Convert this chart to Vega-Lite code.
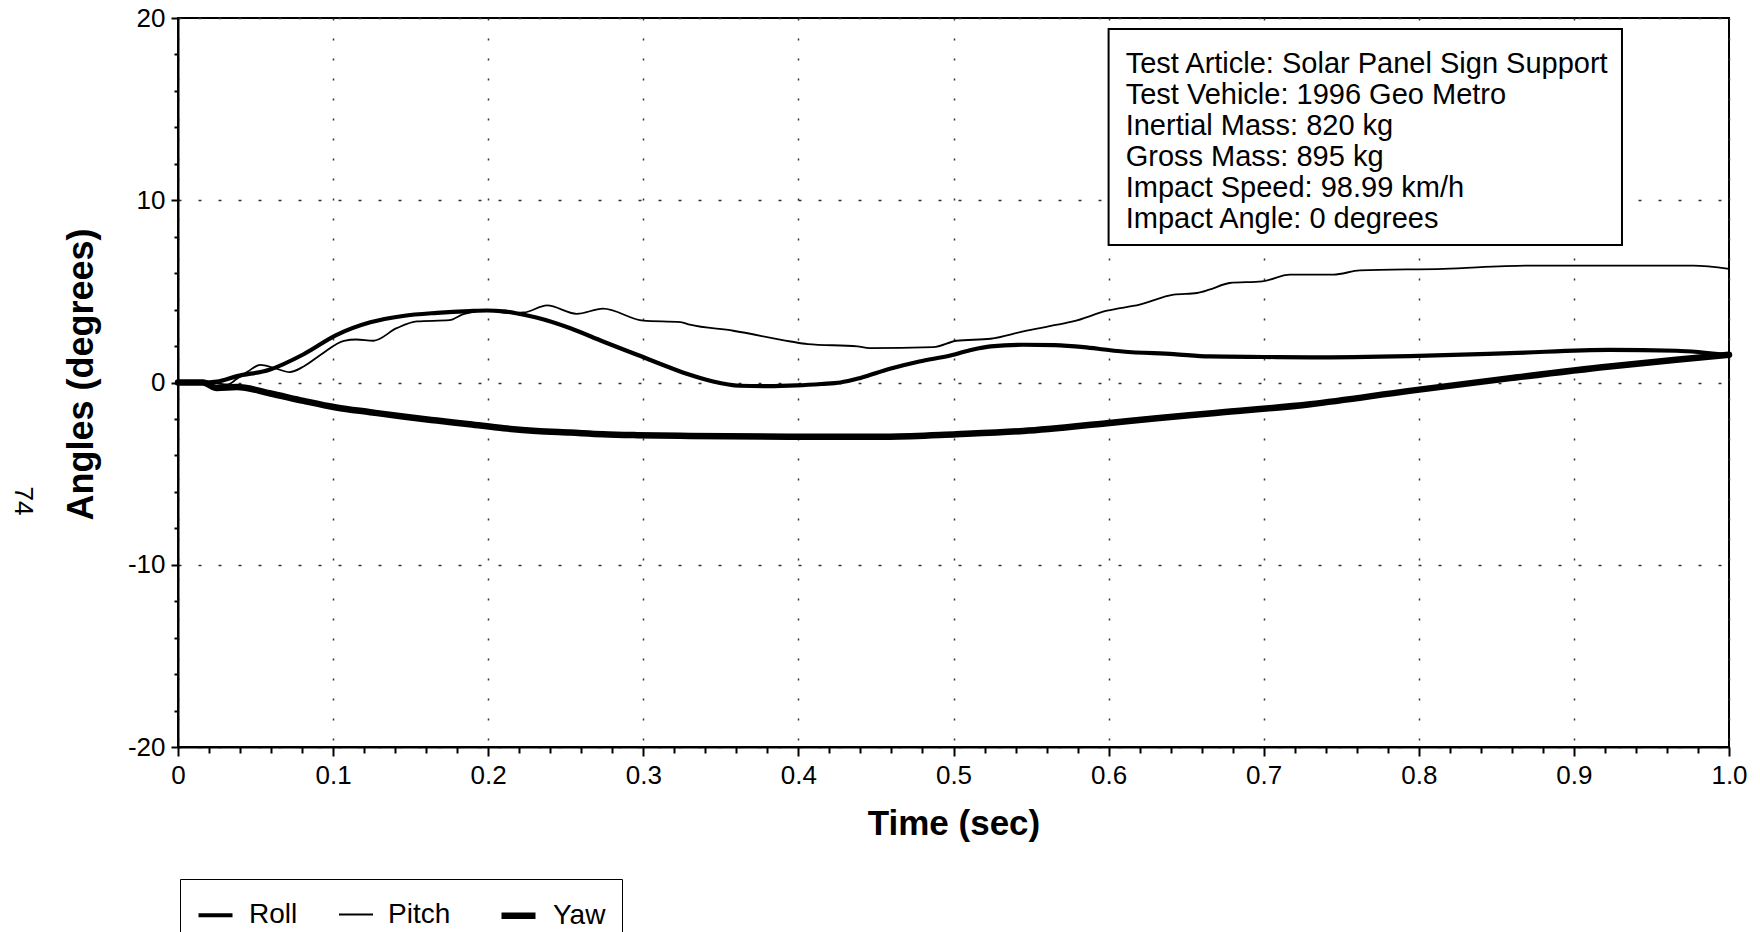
{
  "$schema": "https://vega.github.io/schema/vega-lite/v6.json",
  "width": 1551,
  "height": 729,
  "autosize": {"type": "none"},
  "padding": {"left": 178, "top": 18, "right": 31, "bottom": 185},
  "background": "white",
  "config": {
    "font": "Liberation Sans",
    "view": {"stroke": "black", "strokeWidth": 2},
    "axis": {"labelColor": "black", "titleColor": "black", "domainColor": "black", "tickColor": "black"}
  },
  "datasets": {
    "series": [
      {"t": 0, "value": 0, "s": "Roll"}, {"t": 0.016, "value": 0, "s": "Roll"}, {"t": 0.025, "value": 0.05, "s": "Roll"}, {"t": 0.038, "value": 0.35, "s": "Roll"}, {"t": 0.059, "value": 0.7, "s": "Roll"}, {"t": 0.081, "value": 1.55, "s": "Roll"}, {"t": 0.102, "value": 2.6, "s": "Roll"}, {"t": 0.124, "value": 3.3, "s": "Roll"}, {"t": 0.145, "value": 3.65, "s": "Roll"}, {"t": 0.167, "value": 3.82, "s": "Roll"}, {"t": 0.188, "value": 3.92, "s": "Roll"}, {"t": 0.199, "value": 3.95, "s": "Roll"}, {"t": 0.21, "value": 3.9, "s": "Roll"}, {"t": 0.218, "value": 3.8, "s": "Roll"}, {"t": 0.231, "value": 3.57, "s": "Roll"}, {"t": 0.253, "value": 2.98, "s": "Roll"}, {"t": 0.274, "value": 2.25, "s": "Roll"}, {"t": 0.296, "value": 1.52, "s": "Roll"}, {"t": 0.317, "value": 0.82, "s": "Roll"}, {"t": 0.33, "value": 0.42, "s": "Roll"}, {"t": 0.345, "value": 0.05, "s": "Roll"}, {"t": 0.362, "value": -0.18, "s": "Roll"}, {"t": 0.38, "value": -0.2, "s": "Roll"}, {"t": 0.399, "value": -0.16, "s": "Roll"}, {"t": 0.415, "value": -0.08, "s": "Roll"}, {"t": 0.427, "value": 0.0, "s": "Roll"}, {"t": 0.44, "value": 0.25, "s": "Roll"}, {"t": 0.459, "value": 0.75, "s": "Roll"}, {"t": 0.478, "value": 1.15, "s": "Roll"}, {"t": 0.498, "value": 1.48, "s": "Roll"}, {"t": 0.512, "value": 1.8, "s": "Roll"}, {"t": 0.524, "value": 1.98, "s": "Roll"}, {"t": 0.545, "value": 2.07, "s": "Roll"}, {"t": 0.565, "value": 2.05, "s": "Roll"}, {"t": 0.584, "value": 1.94, "s": "Roll"}, {"t": 0.6, "value": 1.78, "s": "Roll"}, {"t": 0.609, "value": 1.7, "s": "Roll"}, {"t": 0.642, "value": 1.56, "s": "Roll"}, {"t": 0.665, "value": 1.43, "s": "Roll"}, {"t": 0.7, "value": 1.4, "s": "Roll"}, {"t": 0.73, "value": 1.38, "s": "Roll"}, {"t": 0.794, "value": 1.45, "s": "Roll"}, {"t": 0.859, "value": 1.61, "s": "Roll"}, {"t": 0.923, "value": 1.79, "s": "Roll"}, {"t": 0.966, "value": 1.74, "s": "Roll"}, {"t": 1.0, "value": 1.5, "s": "Roll"},
      {"t": 0, "value": 0, "s": "Pitch"}, {"t": 0.016, "value": 0, "s": "Pitch"}, {"t": 0.025, "value": -0.05, "s": "Pitch"}, {"t": 0.032, "value": -0.1, "s": "Pitch"}, {"t": 0.038, "value": 0.2, "s": "Pitch"}, {"t": 0.045, "value": 0.6, "s": "Pitch"}, {"t": 0.053, "value": 0.97, "s": "Pitch"}, {"t": 0.062, "value": 0.8, "s": "Pitch"}, {"t": 0.072, "value": 0.57, "s": "Pitch"}, {"t": 0.081, "value": 0.88, "s": "Pitch"}, {"t": 0.092, "value": 1.52, "s": "Pitch"}, {"t": 0.107, "value": 2.29, "s": "Pitch"}, {"t": 0.115, "value": 2.36, "s": "Pitch"}, {"t": 0.126, "value": 2.29, "s": "Pitch"}, {"t": 0.141, "value": 2.98, "s": "Pitch"}, {"t": 0.154, "value": 3.35, "s": "Pitch"}, {"t": 0.175, "value": 3.42, "s": "Pitch"}, {"t": 0.184, "value": 3.75, "s": "Pitch"}, {"t": 0.199, "value": 3.94, "s": "Pitch"}, {"t": 0.214, "value": 3.81, "s": "Pitch"}, {"t": 0.223, "value": 3.84, "s": "Pitch"}, {"t": 0.238, "value": 4.23, "s": "Pitch"}, {"t": 0.257, "value": 3.77, "s": "Pitch"}, {"t": 0.274, "value": 4.05, "s": "Pitch"}, {"t": 0.3, "value": 3.39, "s": "Pitch"}, {"t": 0.324, "value": 3.31, "s": "Pitch"}, {"t": 0.33, "value": 3.17, "s": "Pitch"}, {"t": 0.358, "value": 2.84, "s": "Pitch"}, {"t": 0.395, "value": 2.25, "s": "Pitch"}, {"t": 0.406, "value": 2.11, "s": "Pitch"}, {"t": 0.438, "value": 1.98, "s": "Pitch"}, {"t": 0.446, "value": 1.89, "s": "Pitch"}, {"t": 0.487, "value": 1.94, "s": "Pitch"}, {"t": 0.502, "value": 2.29, "s": "Pitch"}, {"t": 0.524, "value": 2.4, "s": "Pitch"}, {"t": 0.545, "value": 2.8, "s": "Pitch"}, {"t": 0.567, "value": 3.17, "s": "Pitch"}, {"t": 0.577, "value": 3.35, "s": "Pitch"}, {"t": 0.599, "value": 3.94, "s": "Pitch"}, {"t": 0.62, "value": 4.27, "s": "Pitch"}, {"t": 0.642, "value": 4.82, "s": "Pitch"}, {"t": 0.657, "value": 4.91, "s": "Pitch"}, {"t": 0.665, "value": 5.09, "s": "Pitch"}, {"t": 0.678, "value": 5.46, "s": "Pitch"}, {"t": 0.699, "value": 5.55, "s": "Pitch"}, {"t": 0.717, "value": 5.92, "s": "Pitch"}, {"t": 0.745, "value": 5.92, "s": "Pitch"}, {"t": 0.762, "value": 6.15, "s": "Pitch"}, {"t": 0.816, "value": 6.24, "s": "Pitch"}, {"t": 0.87, "value": 6.41, "s": "Pitch"}, {"t": 0.945, "value": 6.41, "s": "Pitch"}, {"t": 0.977, "value": 6.41, "s": "Pitch"}, {"t": 1.0, "value": 6.24, "s": "Pitch"},
      {"t": 0, "value": 0, "s": "Yaw"}, {"t": 0.016, "value": 0, "s": "Yaw"}, {"t": 0.025, "value": -0.3, "s": "Yaw"}, {"t": 0.038, "value": -0.25, "s": "Yaw"}, {"t": 0.059, "value": -0.59, "s": "Yaw"}, {"t": 0.081, "value": -1.01, "s": "Yaw"}, {"t": 0.102, "value": -1.37, "s": "Yaw"}, {"t": 0.124, "value": -1.63, "s": "Yaw"}, {"t": 0.145, "value": -1.87, "s": "Yaw"}, {"t": 0.167, "value": -2.09, "s": "Yaw"}, {"t": 0.188, "value": -2.29, "s": "Yaw"}, {"t": 0.21, "value": -2.51, "s": "Yaw"}, {"t": 0.231, "value": -2.66, "s": "Yaw"}, {"t": 0.253, "value": -2.75, "s": "Yaw"}, {"t": 0.274, "value": -2.84, "s": "Yaw"}, {"t": 0.296, "value": -2.89, "s": "Yaw"}, {"t": 0.33, "value": -2.93, "s": "Yaw"}, {"t": 0.394, "value": -2.97, "s": "Yaw"}, {"t": 0.459, "value": -2.97, "s": "Yaw"}, {"t": 0.502, "value": -2.84, "s": "Yaw"}, {"t": 0.545, "value": -2.66, "s": "Yaw"}, {"t": 0.599, "value": -2.23, "s": "Yaw"}, {"t": 0.631, "value": -1.96, "s": "Yaw"}, {"t": 0.665, "value": -1.7, "s": "Yaw"}, {"t": 0.73, "value": -1.19, "s": "Yaw"}, {"t": 0.794, "value": -0.46, "s": "Yaw"}, {"t": 0.859, "value": 0.24, "s": "Yaw"}, {"t": 0.923, "value": 0.88, "s": "Yaw"}, {"t": 0.966, "value": 1.25, "s": "Yaw"}, {"t": 1.0, "value": 1.52, "s": "Yaw"}
    ]
  },
  "resolve": {"axis": {"x": "independent", "y": "independent"}},
  "layer": [
    {
      "data": {"name": "series"},
      "mark": {"type": "line", "color": "black", "interpolate": "monotone", "strokeCap": "round", "strokeJoin": "round"},
      "encoding": {
        "x": {
          "field": "t", "type": "quantitative",
          "scale": {"domain": [0, 1], "nice": false, "zero": false},
          "axis": {
            "orient": "bottom",
            "title": "Time (sec)",
            "titleFontSize": 35, "titleFontWeight": "bold", "titleY": 76, "titleBaseline": "middle",
            "values": [0, 0.1, 0.2, 0.3, 0.4, 0.5, 0.6, 0.7, 0.8, 0.9, 1.0],
            "labelExpr": "datum.value == 0 ? '0' : format(datum.value, '.1f')",
            "labelFontSize": 26, "labelPadding": 6, "labelFlush": false, "labelOverlap": false,
            "tickSize": 9, "tickWidth": 2, "domainWidth": 2,
            "grid": true, "gridColor": "#333333", "gridDash": [2, 18], "gridWidth": 1.5
          }
        },
        "y": {
          "field": "value", "type": "quantitative",
          "scale": {"domain": [-20, 20], "nice": false, "zero": false},
          "axis": {
            "orient": "left",
            "title": "Angles (degrees)",
            "titleFontSize": 36, "titleFontWeight": "bold", "titleX": -97, "titleY": 356, "titleBaseline": "middle",
            "values": [-20, -10, 0, 10, 20],
            "labelExpr": "datum.value < 0 ? '-' + format(-datum.value, 'd') : format(datum.value, 'd')",
            "labelFontSize": 26, "labelPadding": 6, "labelFlush": false, "labelOverlap": false,
            "tickSize": 7, "tickWidth": 2, "domainWidth": 2,
            "grid": true, "gridColor": "#333333", "gridDash": [3, 17], "gridWidth": 1.5
          }
        },
        "strokeWidth": {
          "field": "s", "type": "nominal",
          "scale": {"type": "point", "domain": ["Pitch", "Roll", "Yaw"], "range": [1.8, 6.5], "padding": 0},
          "legend": {
            "title": null, "orient": "none", "legendX": 2, "legendY": 861,
            "values": ["Roll", "Pitch", "Yaw"],
            "direction": "horizontal", "symbolType": "stroke", "symbolSize": 1156,
            "symbolStrokeColor": "black", "labelFontSize": 28, "labelColor": "black",
            "labelOffset": 14, "columnPadding": 37, "padding": 16,
            "strokeColor": "black", "fillColor": "white"
          }
        }
      }
    },
    {
      "data": {"name": "series"},
      "mark": {"type": "point", "opacity": 0},
      "encoding": {
        "x": {
          "field": "t", "type": "quantitative",
          "scale": {"domain": [0, 1], "nice": false, "zero": false},
          "axis": {
            "orient": "bottom", "title": null, "labels": false, "grid": false, "domain": false,
            "values": [0.02, 0.04, 0.06, 0.08, 0.12, 0.14, 0.16, 0.18, 0.22, 0.24, 0.26, 0.28, 0.32, 0.34, 0.36, 0.38, 0.42, 0.44, 0.46, 0.48, 0.52, 0.54, 0.56, 0.58, 0.62, 0.64, 0.66, 0.68, 0.72, 0.74, 0.76, 0.78, 0.82, 0.84, 0.86, 0.88, 0.92, 0.94, 0.96, 0.98],
            "tickSize": 6, "tickWidth": 2
          }
        },
        "y": {
          "field": "value", "type": "quantitative",
          "scale": {"domain": [-20, 20], "nice": false, "zero": false},
          "axis": {
            "orient": "left", "title": null, "labels": false, "grid": false, "domain": false,
            "values": [-18, -16, -14, -12, -8, -6, -4, -2, 2, 4, 6, 8, 12, 14, 16, 18],
            "tickSize": 4, "tickWidth": 2
          }
        }
      }
    },
    {
      "data": {"values": [{}]},
      "mark": {"type": "rect", "fill": "white", "stroke": "black", "strokeWidth": 2},
      "encoding": {
        "x": {"datum": 0.6, "type": "quantitative", "scale": {"domain": [0, 1], "nice": false, "zero": false}, "axis": null},
        "x2": {"datum": 0.931},
        "y": {"datum": 19.4, "type": "quantitative", "scale": {"domain": [-20, 20], "nice": false, "zero": false}, "axis": null},
        "y2": {"datum": 7.54}
      }
    },
    {
      "data": {"values": [{}]},
      "mark": {
        "type": "text", "align": "left", "baseline": "alphabetic", "fontSize": 29, "lineHeight": 31, "color": "black",
        "text": ["Test Article: Solar Panel Sign Support", "Test Vehicle: 1996 Geo Metro", "Inertial Mass: 820 kg", "Gross Mass: 895 kg", "Impact Speed: 98.99 km/h", "Impact Angle: 0 degrees"]
      },
      "encoding": {
        "x": {"datum": 0.611, "type": "quantitative", "scale": {"domain": [0, 1], "nice": false, "zero": false}, "axis": null},
        "y": {"datum": 16.98, "type": "quantitative", "scale": {"domain": [-20, 20], "nice": false, "zero": false}, "axis": null}
      }
    },
    {
      "data": {"values": [{}]},
      "mark": {"type": "text", "align": "center", "baseline": "middle", "angle": 90, "fontSize": 26, "color": "black", "text": "74", "clip": false},
      "encoding": {
        "x": {"datum": -0.1, "type": "quantitative", "scale": {"domain": [0, 1], "nice": false, "zero": false}, "axis": null},
        "y": {"datum": -6.5, "type": "quantitative", "scale": {"domain": [-20, 20], "nice": false, "zero": false}, "axis": null}
      }
    }
  ]
}
